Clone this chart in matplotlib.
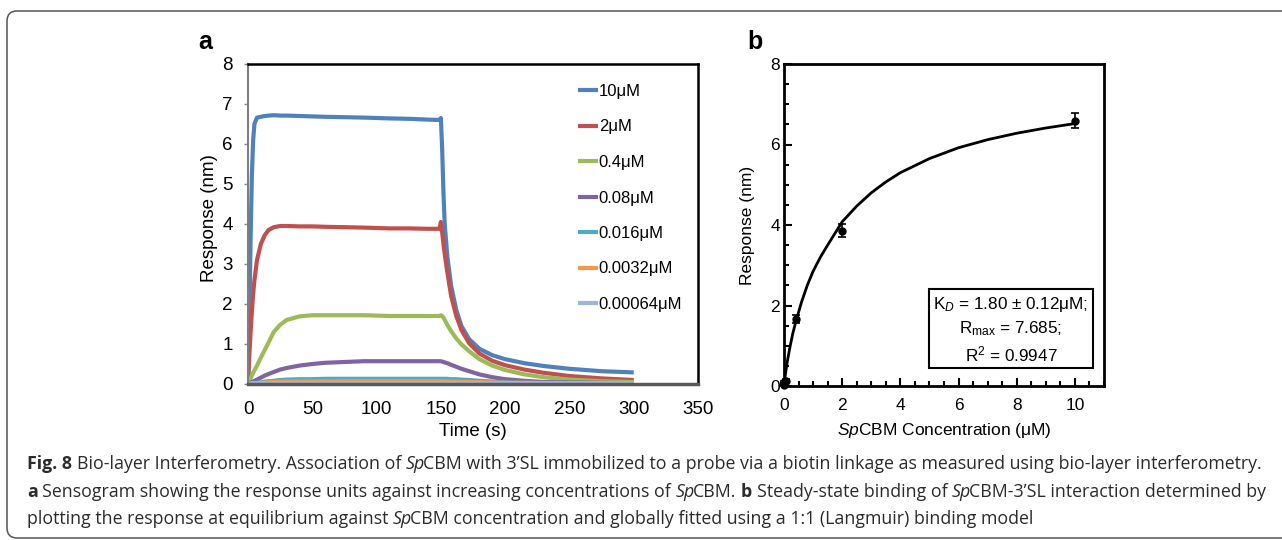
import matplotlib
matplotlib.use("Agg")
import matplotlib.pyplot as plt
from matplotlib.patches import FancyBboxPatch, Rectangle
from matplotlib.transforms import IdentityTransform

W, H = 1282, 540

# ---------------- panel a: sensogram ----------------
time_s = [0, 1, 2, 3, 4, 5, 7, 10, 13, 16, 20, 25, 30, 40, 50, 60, 75, 90, 100, 110,
          125, 140, 149, 150, 151, 152, 153, 155, 158, 162, 166, 172, 180, 190, 200,
          215, 230, 250, 275, 300]

resp_10uM = [0, 1.6, 3.6, 5.2, 6.1, 6.5, 6.66, 6.68, 6.7, 6.71, 6.72, 6.71, 6.71, 6.7, 6.69,
             6.68, 6.67, 6.66, 6.65, 6.64, 6.63, 6.61, 6.6, 6.65, 5.9, 4.8, 4.0, 3.2, 2.45,
             1.85, 1.45, 1.12, 0.88, 0.72, 0.62, 0.52, 0.45, 0.38, 0.32, 0.29]
resp_2uM = [0, 0.7, 1.3, 1.8, 2.25, 2.6, 3.1, 3.5, 3.72, 3.85, 3.92, 3.95, 3.95, 3.94, 3.94,
            3.93, 3.92, 3.91, 3.9, 3.89, 3.89, 3.88, 3.88, 4.05, 3.8, 3.5, 3.25, 2.8, 2.2,
            1.7, 1.35, 1.02, 0.76, 0.58, 0.47, 0.36, 0.28, 0.2, 0.14, 0.1]
resp_04uM = [0, 0.07, 0.14, 0.21, 0.28, 0.34, 0.46, 0.66, 0.85, 1.04, 1.3, 1.48, 1.6, 1.69,
             1.72, 1.72, 1.72, 1.72, 1.71, 1.7, 1.7, 1.7, 1.7, 1.72, 1.7, 1.66, 1.6, 1.48,
             1.32, 1.14, 0.99, 0.82, 0.62, 0.46, 0.35, 0.24, 0.17, 0.11, 0.07, 0.05]
resp_008uM = [0, 0.01, 0.03, 0.05, 0.06, 0.08, 0.11, 0.16, 0.21, 0.25, 0.3, 0.36, 0.4, 0.46,
              0.5, 0.53, 0.55, 0.57, 0.57, 0.57, 0.57, 0.57, 0.57, 0.57, 0.56, 0.55, 0.54,
              0.52, 0.48, 0.43, 0.38, 0.32, 0.24, 0.17, 0.12, 0.08, 0.05, 0.04, 0.03, 0.02]
resp_0016uM = [0, 0.005, 0.01, 0.015, 0.02, 0.025, 0.03, 0.045, 0.06, 0.07, 0.08, 0.1, 0.11,
               0.12, 0.12, 0.13, 0.13, 0.13, 0.13, 0.13, 0.13, 0.13, 0.13, 0.13, 0.13, 0.13,
               0.13, 0.13, 0.12, 0.12, 0.11, 0.1, 0.08, 0.06, 0.04, 0.03, 0.02, 0.02, 0.02, 0.02]
resp_00032uM = [0, 0.003, 0.006, 0.01, 0.012, 0.015, 0.02, 0.03, 0.035, 0.04, 0.05, 0.055,
                0.06, 0.06, 0.065, 0.065, 0.07, 0.07, 0.07, 0.07, 0.07, 0.07, 0.07, 0.07,
                0.07, 0.07, 0.065, 0.065, 0.06, 0.06, 0.055, 0.05, 0.045, 0.04, 0.03, 0.03,
                0.025, 0.02, 0.02, 0.02]
resp_000064uM = [0, 0.005, 0.01, 0.015, 0.02, 0.02, 0.02, 0.02, 0.02, 0.02, 0.02, 0.02, 0.02,
                 0.02, 0.02, 0.02, 0.02, 0.02, 0.02, 0.02, 0.02, 0.02, 0.02, 0.02, 0.02, 0.02,
                 0.02, 0.02, 0.02, 0.02, 0.02, 0.02, 0.02, 0.02, 0.02, 0.02, 0.02, 0.02, 0.02, 0.02]

series_labels = ["10μM", "2μM", "0.4μM", "0.08μM", "0.016μM", "0.0032μM", "0.00064μM"]
series_values = [resp_10uM, resp_2uM, resp_04uM, resp_008uM, resp_0016uM, resp_00032uM, resp_000064uM]
series_colors = ["#4F81BD", "#C0504D", "#9BBB59", "#8064A2", "#4BACC6", "#F79646", "#9DB5DC"]

# ---------------- panel b: steady state ----------------
conc_uM = [0.00064, 0.0032, 0.016, 0.08, 0.4, 2, 10]
resp_eq = [0.03, 0.05, 0.1, 0.12, 1.66, 3.86, 6.59]
resp_err = [0.02, 0.02, 0.03, 0.05, 0.1, 0.17, 0.19]

fit_conc = [0, 0.05, 0.1, 0.2, 0.3, 0.4, 0.6, 0.8, 1.0, 1.25, 1.5, 2, 2.5, 3, 3.5, 4, 5, 6,
            7, 8, 9, 10]
fit_resp = [0, 0.3, 0.55, 0.95, 1.3, 1.58, 2.08, 2.5, 2.85, 3.2, 3.5, 4.08, 4.47, 4.8, 5.07,
            5.3, 5.65, 5.92, 6.12, 6.28, 6.41, 6.52]

plt.rcParams["font.family"] = ["Liberation Sans", "DejaVu Sans"]
plt.rcParams["mathtext.fontset"] = "custom"
plt.rcParams["mathtext.rm"] = "Liberation Sans"
plt.rcParams["mathtext.it"] = "Liberation Sans:italic"

fig = plt.figure(figsize=(W / 100, H / 100), dpi=100)


def fx(px):
    return px / W


def fy(py):
    return 1 - py / H


# outer rounded frame (runs off the right edge like the source)
frame = FancyBboxPatch((7, 2), 1400, 527, boxstyle="round,pad=0,rounding_size=10",
                       transform=IdentityTransform(), fill=False, ec="#555555", lw=1.1)
fig.patches.append(frame)

# -----------------------------------
# panel a
# -----------------------------------
axa = fig.add_axes([fx(248), fy(384), 450 / W, 320 / H])
for vals, lab, col in zip(series_values, series_labels, series_colors):
    axa.plot(time_s, vals, color=col, lw=3, label=lab, solid_capstyle="butt")

axa.set_xlim(0, 350)
axa.set_ylim(0, 8)
axa.set_xticks(range(0, 351, 50))
axa.set_yticks(range(0, 9))
axa.tick_params(axis="y", length=3, width=1, color="#888888", pad=8, labelsize=13.5)
axa.tick_params(axis="x", length=0, pad=12, labelsize=13.5)
axa.spines["left"].set_color("#7f7f7f")
axa.spines["left"].set_linewidth(1.5)
axa.spines["bottom"].set_color("#5a5a5a")
axa.spines["bottom"].set_linewidth(2.5)
for s in ["top", "right"]:
    axa.spines[s].set_color("black")
    axa.spines[s].set_linewidth(1.8)

axa.legend(loc="upper left", bbox_to_anchor=(fx(578), fy(84)), frameon=False,
           fontsize=12, handlelength=1.2, handletextpad=0.05, labelspacing=1.23,
           borderpad=0, borderaxespad=0, bbox_transform=fig.transFigure)

fig.text(fx(210), fy(218), "Response (nm)", rotation=90, ha="center", va="center",
         fontsize=13.5)
fig.text(fx(473), fy(431), "Time (s)", ha="center", va="center", fontsize=13.5)
fig.text(fx(205), fy(42), "a", ha="center", va="center", fontsize=18, fontweight="bold")

# -----------------------------------
# panel b
# -----------------------------------
axb = fig.add_axes([fx(784), fy(386), 320 / W, 322 / H])
axb.plot(fit_conc, fit_resp, color="black", lw=2)
axb.errorbar(conc_uM, resp_eq, yerr=resp_err, fmt="o", color="black", ms=5,
             capsize=3, elinewidth=1.2, capthick=1.2, clip_on=False, zorder=5)
axb.set_xlim(0, 11)
axb.set_ylim(0, 8)
axb.set_xticks([0, 2, 4, 6, 8, 10])
axb.set_yticks([0, 2, 4, 6, 8])
axb.set_xticks([i * 0.5 for i in range(23)], minor=True)
axb.set_yticks([i * 0.5 for i in range(17)], minor=True)
axb.tick_params(which="both", direction="in", width=1.5, labelsize=12.5)
axb.tick_params(which="major", length=6)
axb.tick_params(which="minor", length=3.5)
axb.tick_params(axis="y", pad=3)
axb.tick_params(axis="x", pad=9)
for s in axb.spines.values():
    s.set_linewidth(2)
    s.set_color("black")

fig.text(fx(747), fy(225), "Response (nm)", rotation=90, ha="center", va="center",
         fontsize=12.5)
fig.text(fx(944), fy(430), r"$\mathit{Sp}$CBM Concentration (μM)", ha="center",
         va="center", fontsize=12.5)
fig.text(fx(755), fy(42), "b", ha="center", va="center", fontsize=18, fontweight="bold")

box = Rectangle((929, H - 368), 164, 79, transform=IdentityTransform(), fill=False,
                ec="black", lw=1.5)
fig.patches.append(box)
fig.text(fx(1011), fy(304), r"K$_{\mathit{D}}$ = 1.80 ± 0.12μM;", ha="center",
         va="center", fontsize=12.3)
fig.text(fx(1011), fy(329), r"R$_{\mathrm{max}}$ = 7.685;", ha="center", va="center",
         fontsize=12.3)
fig.text(fx(1011), fy(354), r"R$^{2}$ = 0.9947", ha="center", va="center", fontsize=12.3)

# -----------------------------------
# caption
# -----------------------------------
cap_size = 12.8
cap_color = "#2b2b2b"
renderer = fig.canvas.get_renderer()


def text_width(s, weight="normal", style="normal"):
    t = fig.text(0, 0, s, fontsize=cap_size, family="Open Sans", fontweight=weight,
                 fontstyle=style)
    w = t.get_window_extent(renderer).width
    t.remove()
    return w


space_w = text_width("a a") - text_width("aa")


def caption_line(x, y, parts):
    for txt, kind in parts:
        if txt.startswith(" "):
            x += space_w
        core = txt.strip()
        weight = "bold" if kind == "b" else "normal"
        style = "italic" if kind == "i" else "normal"
        t = fig.text(fx(x), fy(y), core, fontsize=cap_size, family="Open Sans",
                     fontweight=weight, fontstyle=style, color=cap_color, va="baseline")
        x += t.get_window_extent(renderer).width
        if kind == "i":
            x -= 2
        if txt.endswith(" "):
            x += space_w


caption_line(27, 469, [("Fig. 8", "b"),
                       (" Bio-layer Interferometry. Association of ", "n"), ("Sp", "i"),
                       ("CBM with 3’SL immobilized to a probe via a biotin linkage as measured using bio-layer interferometry.", "n")])
caption_line(27, 497, [("a", "b"),
                       (" Sensogram showing the response units against increasing concentrations of ", "n"),
                       ("Sp", "i"), ("CBM. ", "n"), ("b", "b"), (" Steady-state binding of ", "n"),
                       ("Sp", "i"), ("CBM-3’SL interaction determined by", "n")])
caption_line(27, 524, [("plotting the response at equilibrium against ", "n"), ("Sp", "i"),
                       ("CBM concentration and globally fitted using a 1:1 (Langmuir) binding model", "n")])

fig.savefig("out.png", dpi=100)
